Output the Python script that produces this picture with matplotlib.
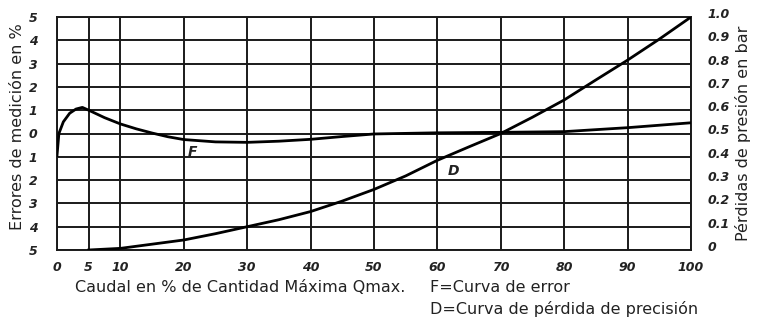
import matplotlib
matplotlib.use("Agg")
import matplotlib.pyplot as plt
from matplotlib.transforms import ScaledTranslation

# Error curve F (left axis, %)
f_x = [0, 0.3, 1, 2, 3, 4, 5, 7.5, 10, 12.5, 15, 17.5, 20, 25, 30, 35, 40, 45, 50, 60, 70, 80, 90, 100]
f_y = [-0.95, 0.0, 0.5, 0.87, 1.05, 1.12, 1.0, 0.68, 0.41, 0.2, 0.02, -0.14, -0.26, -0.36, -0.38, -0.33, -0.25, -0.13, -0.02, 0.03, 0.05, 0.08, 0.25, 0.46]

# Pressure loss curve D (right axis, bar)
d_x = [5, 10, 15, 20, 25, 30, 35, 40, 45, 50, 55, 60, 65, 70, 75, 80, 85, 90, 95, 100]
d_y = [0.0, 0.007, 0.025, 0.043, 0.07, 0.1, 0.13, 0.165, 0.21, 0.26, 0.318, 0.385, 0.443, 0.5, 0.57, 0.644, 0.73, 0.815, 0.905, 1.0]

x_ticks = [0, 5, 10, 20, 30, 40, 50, 60, 70, 80, 90, 100]
left_ticks = [5, 4, 3, 2, 1, 0, -1, -2, -3, -4, -5]
left_labels = ["5", "4", "3", "2", "1", "0", "1", "2", "3", "4", "5"]
right_ticks = [1.0, 0.9, 0.8, 0.7, 0.6, 0.5, 0.4, 0.3, 0.2, 0.1, 0.0]
right_labels = ["1.0", "0.9", "0.8", "0.7", "0.6", "0.5", "0.4", "0.3", "0.2", "0.1", "0"]

fig = plt.figure(figsize=(7.58, 3.17), dpi=100)
ax = fig.add_axes([57/758, 1-250/317, (691-57)/758, (250-17)/317])
ax.set_xlim(0, 100)
ax.set_ylim(-5, 5)

lc = "#1a1a1a"
for xv in x_ticks:
    ax.axvline(xv, color=lc, lw=1.4, zorder=1)
for yv in left_ticks:
    ax.axhline(yv, color=lc, lw=1.4, zorder=1)
for s in ax.spines.values():
    s.set_linewidth(1.4)
    s.set_color(lc)

ax.plot(f_x, f_y, color="black", lw=2.0, zorder=3, solid_joinstyle="round")

ax2 = ax.twinx()
ax2.set_ylim(0, 1)
ax2.plot(d_x, d_y, color="black", lw=2.0, zorder=3, solid_joinstyle="round")

tick_font = dict(fontsize=9, fontweight="bold", fontstyle="italic", color="#222222")
ax.set_xticks(x_ticks)
ax.set_xticklabels([str(v) for v in x_ticks], **tick_font)
ax.set_yticks(left_ticks)
ax.set_yticklabels(left_labels, **tick_font)
ax2.set_yticks(right_ticks)
ax2.set_yticklabels(right_labels, **tick_font)
ax.tick_params(axis="x", length=0, pad=8)
ax.tick_params(axis="y", length=0, pad=14)
ax2.tick_params(axis="y", length=0, pad=12)
for s in ax2.spines.values():
    s.set_visible(False)
up = ScaledTranslation(0, 4/100, fig.dpi_scale_trans)
for lab in ax2.get_yticklabels():
    lab.set_transform(lab.get_transform() + up)

# curve labels
ax.text(21.3, -0.8, "F", fontsize=10, fontweight="bold", fontstyle="italic", ha="center", va="center", color="#222222")
ax2.text(62.5, 0.34, "D", fontsize=10, fontweight="bold", fontstyle="italic", ha="center", va="center", color="#222222")

txt = dict(fontsize=11.5, color="#222222")
fig.text(18/758, 1-127/317, "Errores de medición en %", rotation=90, ha="center", va="center", **txt)
fig.text(743/758, 1-133/317, "Pérdidas de presión en bar", rotation=90, ha="center", va="center", **txt)
fig.text(75/758, 1-287/317, "Caudal en % de Cantidad Máxima Qmax.", ha="left", va="center", **txt)
fig.text(430/758, 1-287/317, "F=Curva de error", ha="left", va="center", **txt)
fig.text(430/758, 1-309/317, "D=Curva de pérdida de precisión", ha="left", va="center", **txt)

fig.savefig("out.png", dpi=100, facecolor="white")
